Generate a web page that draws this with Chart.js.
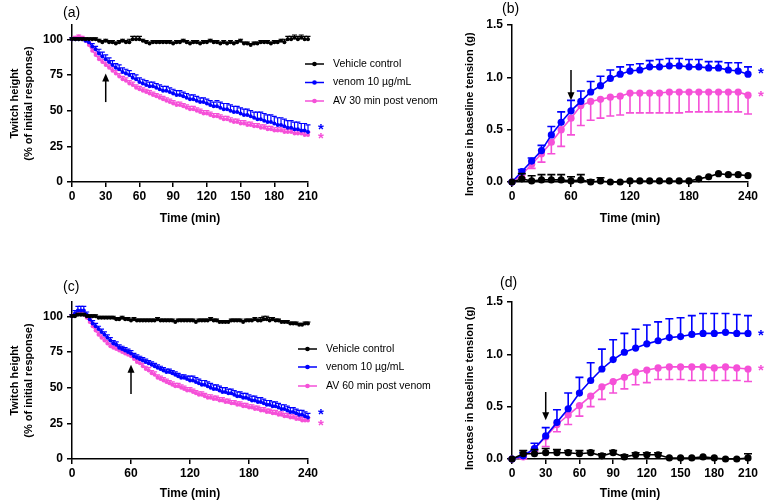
<!DOCTYPE html>
<html lang="en">
<head>
<meta charset="UTF-8" />
<title>Twitch height and baseline tension</title>
<script src="https://cdn.jsdelivr.net/npm/chart.js"></script>
<style>
  body { margin: 0; background: #fff; }
  #wrap { position: relative; width: 767px; height: 502px; overflow: hidden; }
  #wrap canvas { position: absolute; }
</style>
</head>
<body>
<div id="wrap">
  <canvas id="chartA" style="left:0;top:0;width:445px;height:228px" width="445" height="228"></canvas>
  <canvas id="chartB" style="left:440px;top:0;width:327px;height:228px" width="327" height="228"></canvas>
  <canvas id="chartC" style="left:0;top:240px;width:445px;height:262px" width="445" height="262"></canvas>
  <canvas id="chartD" style="left:440px;top:240px;width:327px;height:262px" width="327" height="262"></canvas>
</div>
<script>
// ---- panel (a): twitch height, AV 30 min post venom ----
const aTime = [0,3,6,9,12,15,18,21,24,27,30,33,36,39,42,45,48,51,54,57,60,63,66,69,72,75,78,81,84,87,90,93,96,99,102,105,108,111,114,117,120,123,126,129,132,135,138,141,144,147,150,153,156,159,162,165,168,171,174,177,180,183,186,189,192,195,198,201,204,207,210];
const aVehicle = [100,100,100,100,100,100,100,100,99,98, 99,98,98,97,98,99,98,98,100,100, 100,99,98,97,98,98,98,98,98,98, 97,98,98,99,98,97,98,98,97,98, 98,99,98,98,97,98,97,98,97,98, 99,97,97,96,97,97,98,98,98,97, 98,98,99,98,100,100,101,100,101,100, 100];
const aVehicleErr = [1,1,1,1,1,1,1,1,1,1, 1,1,1,1,1,1,1,2,2,2, 2,1,1,1,1,1,1,1,1,1, 1,1,1,1,1,1,1,1,1,1, 1,1,1,1,1,1,1,1,1,1, 1,1,1,1,1,1,1,1,1,1, 1,1,1,2,2,2,2,2,2,2, 2];
const aVenom = [100,100,100,100,99,98,95,93,90,88, 86,84,82,80,79,77,76,75,73,72, 70,69,68,67,67,66,65,64,64,63, 62,61,61,60,59,58,58,57,56,56, 55,54,53,53,52,51,51,50,49,49, 48,47,47,46,45,44,44,43,42,42, 41,40,40,39,38,38,37,37,36,36, 35];
const aVenomErr = [1,1,1,1,1,2,2,2,3,3, 3,3,3,3,3,3,3,3,3,3, 3,3,3,3,3,3,3,3,3,3, 3,3,3,3,3,3,3,3,3,3, 3,3,3,4,4,4,4,4,4,4, 4,4,4,4,4,5,5,5,5,5, 5,5,5,5,5,5,5,5,5,5, 5];
const aAV = [100,101,102,101,99,96,92,89,86,84, 82,80,78,76,74,72,71,69,68,66, 65,64,63,62,61,60,59,58,57,56, 55,54,54,53,52,51,51,50,49,48, 48,47,46,46,45,44,44,43,42,42, 41,41,40,40,39,39,38,38,37,37, 36,36,36,35,35,35,34,34,34,33, 33];
const aAVErr = [1,1,1,1,2,2,2,2,2,2, 2,2,2,2,2,2,2,2,2,2, 2,2,2,2,2,2,2,2,2,2, 2,2,2,2,2,2,2,2,2,2, 2,2,2,2,2,2,2,2,2,2, 2,2,2,2,2,2,2,2,2,2, 2,2,2,2,2,2,2,2,2,2, 2];

// ---- panel (b): baseline tension, AV 30 min post venom ----
const bTime = [0,10,20,30,40,50,60,70,80,90,100,110,120,130,140,150,160,170,180,190,200,210,220,230,240];
const bVehicle = [0,0.03,0.01,0.02,0.02,0.02,0.01,0.02,0.00,0.01,0.00,0.00,0.01,0.01,0.01,0.01,0.01,0.01,0.01,0.03,0.05,0.08,0.07,0.07,0.06];
const bVehicleErr = [0,0.05,0.05,0.05,0.05,0.05,0.04,0.05,0.02,0.03,0,0,0,0,0,0,0,0,0,0,0,0,0,0,0];
const bVenom = [0,0.10,0.20,0.30,0.45,0.57,0.68,0.77,0.86,0.92,0.99,1.03,1.06,1.07,1.10,1.10,1.11,1.11,1.10,1.10,1.09,1.09,1.07,1.06,1.03];
const bVenomErr = [0,0.02,0.03,0.05,0.08,0.10,0.10,0.10,0.10,0.09,0.08,0.07,0.06,0.06,0.06,0.07,0.07,0.07,0.07,0.07,0.06,0.06,0.07,0.08,0.07];
const bAV = [0,0.07,0.17,0.27,0.38,0.50,0.61,0.73,0.77,0.79,0.81,0.82,0.85,0.85,0.85,0.85,0.86,0.86,0.86,0.86,0.86,0.86,0.86,0.86,0.83];
const bAVErr = [0,0.03,0.04,0.08,0.11,0.16,0.16,0.19,0.18,0.18,0.18,0.18,0.19,0.19,0.19,0.19,0.20,0.20,0.19,0.19,0.19,0.19,0.19,0.19,0.18];

// ---- panel (c): twitch height, AV 60 min post venom ----
const cTime = [0,3,6,9,12,15,18,21,24,27,30,33,36,39,42,45,48,51,54,57,60,63,66,69,72,75,78,81,84,87,90,93,96,99,102,105,108,111,114,117,120,123,126,129,132,135,138,141,144,147,150,153,156,159,162,165,168,171,174,177,180,183,186,189,192,195,198,201,204,207,210,213,216,219,222,225,228,231,234,237,240];
const cVehicle = [100,100,101,101,101,100,100,100,100,99, 99,99,99,99,99,98,98,99,98,98, 97,98,97,97,97,97,97,97,97,98, 97,97,97,97,97,96,97,97,97,97, 97,97,96,97,97,97,97,98,97,97, 96,96,96,96,97,97,97,97,96,97, 97,97,98,97,97,98,98,97,98,97, 97,96,96,96,95,95,95,94,94,95, 95];
const cVehicleErr = [1,1,1,1,1,1,1,1,1,1, 1,1,1,1,1,1,1,1,1,1, 1,1,1,1,1,1,1,1,1,1, 1,1,1,1,1,1,1,1,1,1, 1,1,1,1,1,1,1,1,1,1, 1,1,1,1,1,1,1,1,1,1, 1,1,1,1,2,2,2,2,1,1, 1,1,1,1,1,1,1,1,1,1, 1];
const cVenom = [100,102,104,104,104,101,98,95,93,91, 89,87,85,83,81,80,78,77,76,75, 74,72,71,70,69,68,67,66,65,64, 63,62,61,61,60,59,58,57,57,56, 55,55,54,53,52,52,51,50,49,49, 48,47,47,46,46,45,44,44,43,43, 42,41,41,40,40,39,38,38,37,37, 36,35,35,34,33,33,32,31,31,30, 29];
const cVenomErr = [1,2,3,3,3,2,2,2,2,2, 2,2,2,2,2,2,2,2,2,2, 2,2,2,2,2,2,2,2,2,2, 2,2,2,2,2,2,2,2,2,2, 3,3,3,3,3,3,3,3,3,3, 3,3,3,3,3,3,3,3,3,3, 3,3,3,3,3,3,3,3,3,3, 3,3,3,3,3,3,3,3,3,3, 3];
const cAV = [100,101,102,102,101,99,96,93,90,87, 85,83,81,79,78,77,76,75,74,73, 72,70,68,67,65,63,62,60,59,57, 56,55,54,53,52,51,51,50,49,48, 48,47,46,45,45,44,43,43,42,42, 41,41,40,40,39,39,38,38,37,37, 36,36,35,35,34,34,33,33,32,32, 31,31,30,30,29,29,28,28,27,27, 27];
const cAVErr = [1,1,1,1,2,2,2,2,2,2, 2,2,2,2,2,2,2,2,2,2, 2,2,2,2,2,2,2,2,2,2, 2,2,2,2,2,2,2,2,2,2, 2,2,2,2,2,2,2,2,2,2, 2,2,2,2,2,2,2,2,2,2, 2,2,2,2,2,2,2,2,2,2, 2,2,2,2,2,2,2,2,2,2, 2];

// ---- panel (d): baseline tension, AV 60 min post venom ----
const dTime = [0,10,20,30,40,50,60,70,80,90,100,110,120,130,140,150,160,170,180,190,200,210];
const dVehicle = [0,0.05,0.05,0.06,0.06,0.06,0.05,0.06,0.03,0.06,0.02,0.04,0.04,0.04,0.01,0.01,0.01,0.02,0.01,0.00,0.00,0.01];
const dVehicleErr = [0,0.03,0.04,0.04,0.03,0.02,0.03,0.02,0.02,0.02,0.02,0.02,0.02,0.02,0,0,0,0,0,0,0,0.04];
const dVenom = [0,0.03,0.10,0.22,0.35,0.48,0.63,0.75,0.86,0.95,1.02,1.06,1.10,1.13,1.16,1.17,1.19,1.20,1.20,1.21,1.20,1.20];
const dVenomErr = [0,0.03,0.05,0.08,0.12,0.15,0.15,0.17,0.19,0.19,0.18,0.18,0.18,0.18,0.18,0.18,0.18,0.19,0.19,0.18,0.18,0.17];
const dAV = [0,0.02,0.10,0.21,0.33,0.42,0.51,0.60,0.69,0.74,0.78,0.83,0.85,0.87,0.88,0.88,0.88,0.88,0.87,0.88,0.87,0.86];
const dAVErr = [0,0.02,0.03,0.09,0.07,0.09,0.10,0.10,0.12,0.11,0.11,0.12,0.12,0.11,0.12,0.12,0.13,0.13,0.12,0.13,0.12,0.12];

// tick labels
const ticks210 = [0,30,60,90,120,150,180,210];
const ticks240 = [0,60,120,180,240];
const twitchTicks = [0,25,50,75,100];
const tensionTicks = [0,0.5,1.0,1.5];

const BLACK = '#000000';
const BLUE = '#0000FF';
const PINK = '#F550D8';
const FONT = '"Liberation Sans", Arial, Helvetica, sans-serif';

Chart.defaults.font.family = FONT;
Chart.defaults.color = '#000';

// error bars, drawn under each series
const errorBars = {
  id: 'errorBars',
  beforeDatasetDraw(chart, args, opts) {
    const ds = chart.data.datasets[args.index];
    if (!ds.errors) return;
    const ctx = chart.ctx, y = chart.scales.y;
    ctx.save();
    ctx.strokeStyle = ds.borderColor;
    ctx.lineWidth = opts.width;
    args.meta.data.forEach((pt, i) => {
      const e = ds.errors[i];
      if (!e) return;
      const v = ds.data[i].y;
      const dirs = ds.errDir === 0 ? [1, -1] : [ds.errDir];
      dirs.forEach(d => {
        const py = y.getPixelForValue(v + d * e);
        ctx.beginPath();
        ctx.moveTo(pt.x, pt.y);
        ctx.lineTo(pt.x, py);
        ctx.moveTo(pt.x - opts.cap, py);
        ctx.lineTo(pt.x + opts.cap, py);
        ctx.stroke();
      });
    });
    ctx.restore();
  }
};

// panel letter, legend, arrow and asterisks
const deco = {
  id: 'deco',
  afterDraw(chart, args, o) {
    const {ctx, scales: {x, y}} = chart;
    ctx.save();
    ctx.fillStyle = '#000';
    ctx.textBaseline = 'middle';
    ctx.font = '14px ' + FONT;
    ctx.fillText(o.label, o.labelAt[0], o.labelAt[1]);

    if (o.legend) {
      ctx.font = '10.5px ' + FONT;
      o.legend.forEach(item => {
        ctx.strokeStyle = item.color;
        ctx.fillStyle = item.color;
        ctx.lineWidth = 1.5;
        ctx.beginPath();
        ctx.moveTo(o.legendX, item.y);
        ctx.lineTo(o.legendX + 19, item.y);
        ctx.stroke();
        ctx.beginPath();
        ctx.arc(o.legendX + 9.5, item.y, 2.3, 0, Math.PI * 2);
        ctx.fill();
        ctx.fillStyle = '#000';
        ctx.fillText(item.text, o.legendX + 28, item.y);
      });
    }

    const ax = x.getPixelForValue(o.arrow.x);
    const y0 = y.getPixelForValue(o.arrow.from);
    const y1 = y.getPixelForValue(o.arrow.to);
    const dir = Math.sign(y1 - y0);
    ctx.strokeStyle = '#000';
    ctx.fillStyle = '#000';
    ctx.lineWidth = 1.5;
    ctx.beginPath();
    ctx.moveTo(ax, y0);
    ctx.lineTo(ax, y1 - dir * 5);
    ctx.stroke();
    ctx.beginPath();
    ctx.moveTo(ax, y1);
    ctx.lineTo(ax - 3.5, y1 - dir * 8);
    ctx.lineTo(ax + 3.5, y1 - dir * 8);
    ctx.closePath();
    ctx.fill();

    ctx.font = 'bold 15px ' + FONT;
    ctx.textAlign = 'center';
    o.stars.forEach(s => {
      ctx.fillStyle = s.color;
      ctx.fillText('*', x.right + 13, y.getPixelForValue(s.value) + 4);
    });
    ctx.restore();
  }
};

function series(label, times, vals, errs, color, dir, cfg) {
  return {
    label: label,
    data: times.map((t, i) => ({x: t, y: vals[i]})),
    errors: errs,
    errDir: dir,
    borderColor: color,
    backgroundColor: color,
    borderWidth: cfg.lw,
    pointRadius: cfg.pr,
    pointHoverRadius: cfg.pr,
    pointBorderWidth: 0,
    tension: 0,
    clip: false
  };
}

function axisStyle() {
  return {
    grid: { drawOnChartArea: false, drawTicks: true, tickLength: 5, color: '#000', lineWidth: 1.5 },
    border: { display: true, color: '#000', width: 1.5 }
  };
}

function makePanel(id, cfg) {
  new Chart(document.getElementById(id), {
    type: 'line',
    data: { datasets: cfg.datasets },
    options: {
      responsive: false,
      animation: false,
      events: [],
      layout: { padding: cfg.pad },
      plugins: {
        legend: { display: false },
        tooltip: { enabled: false },
        errorBars: { width: cfg.errW, cap: cfg.cap },
        deco: cfg.deco
      },
      scales: {
        x: Object.assign(axisStyle(), {
          type: 'linear', min: 0, max: cfg.xMax,
          afterFit: s => { s.height = cfg.xh; },
          afterBuildTicks: s => { s.ticks = cfg.xTicks.map(v => ({value: v})); },
          ticks: { color: '#000', font: {size: 12, weight: 'bold'}, padding: 2, maxRotation: 0, autoSkip: false },
          title: { display: true, text: 'Time (min)', color: '#000', font: {size: 12, weight: 'bold'}, padding: {top: 0, bottom: cfg.xtPad} }
        }),
        y: Object.assign(axisStyle(), {
          type: 'linear', min: 0, max: cfg.yMax,
          afterFit: s => { s.width = cfg.yw; },
          afterBuildTicks: s => { s.ticks = cfg.yTicks.map(v => ({value: v})); },
          ticks: { color: '#000', font: {size: 12, weight: 'bold'}, padding: 4, callback: cfg.yFmt },
          title: { display: true, text: cfg.yTitle, color: '#000', font: {size: 11, weight: 'bold', lineHeight: 1.27}, padding: {top: cfg.ytPad, bottom: 0} }
        })
      }
    },
    plugins: [errorBars, deco]
  });
}

const thin = {lw: 1.2, pr: 2};
const thick = {lw: 1.6, pr: 3.6};

makePanel('chartA', {
  datasets: [
    series('Vehicle control', aTime, aVehicle, aVehicleErr, BLACK, 1, thin),
    series('venom 10 µg/mL', aTime, aVenom, aVenomErr, BLUE, 1, thin),
    series('AV 30 min post venom', aTime, aAV, aAVErr, PINK, 1, thin)
  ],
  pad: {left: 0, top: 25, right: 137, bottom: 0},
  xMax: 210, xTicks: ticks210, xh: 46, xtPad: 2,
  yMax: 110, yTicks: twitchTicks, yw: 72, ytPad: 8, yFmt: v => v,
  yTitle: ['Twitch height', '(% of initial response)'],
  errW: 1.2, cap: 2.5,
  deco: {
    label: '(a)', labelAt: [63, 13],
    legendX: 305,
    legend: [
      {text: 'Vehicle control', color: BLACK, y: 64},
      {text: 'venom 10 µg/mL', color: BLUE, y: 82.5},
      {text: 'AV 30 min post venom', color: PINK, y: 101}
    ],
    arrow: {x: 30, from: 56, to: 76},
    stars: [{value: 39, color: BLUE}, {value: 33, color: PINK}]
  }
});

makePanel('chartB', {
  datasets: [
    series('Vehicle control', bTime, bVehicle, bVehicleErr, BLACK, 1, thick),
    series('venom 10 µg/mL', bTime, bVenom, bVenomErr, BLUE, 1, thick),
    series('AV 30 min post venom', bTime, bAV, bAVErr, PINK, -1, thick)
  ],
  pad: {left: 0, top: 25, right: 19, bottom: 0},
  xMax: 240, xTicks: ticks240, xh: 46, xtPad: 2,
  yMax: 1.5, yTicks: tensionTicks, yw: 72, ytPad: 23, yFmt: v => v.toFixed(1),
  // trailing spaces nudge the centred title down, as in the original
  yTitle: 'Increase in baseline tension (g)       ',
  errW: 1.6, cap: 4,
  deco: {
    label: '(b)', labelAt: [62, 9],
    arrow: {x: 60, from: 1.07, to: 0.78},
    stars: [{value: 1.07, color: BLUE}, {value: 0.85, color: PINK}]
  }
});

makePanel('chartC', {
  datasets: [
    series('Vehicle control', cTime, cVehicle, cVehicleErr, BLACK, 1, thin),
    series('venom 10 µg/mL', cTime, cVenom, cVenomErr, BLUE, 1, thin),
    series('AV 60 min post venom', cTime, cAV, cAVErr, PINK, 1, thin)
  ],
  pad: {left: 0, top: 62, right: 137, bottom: 0},
  xMax: 240, xTicks: ticks240, xh: 43, xtPad: 1,
  yMax: 110, yTicks: twitchTicks, yw: 72, ytPad: 8, yFmt: v => v,
  yTitle: ['Twitch height', '(% of initial response)'],
  errW: 1.2, cap: 2.5,
  deco: {
    label: '(c)', labelAt: [63, 47],
    legendX: 298,
    legend: [
      {text: 'Vehicle control', color: BLACK, y: 109},
      {text: 'venom 10 µg/mL', color: BLUE, y: 127},
      {text: 'AV 60 min post venom', color: PINK, y: 146}
    ],
    arrow: {x: 60, from: 45.5, to: 66},
    stars: [{value: 34, color: BLUE}, {value: 26, color: PINK}]
  }
});

makePanel('chartD', {
  datasets: [
    series('Vehicle control', dTime, dVehicle, dVehicleErr, BLACK, 1, thick),
    series('venom 10 µg/mL', dTime, dVenom, dVenomErr, BLUE, 1, thick),
    series('AV 60 min post venom', dTime, dAV, dAVErr, PINK, -1, thick)
  ],
  pad: {left: 0, top: 62, right: 19, bottom: 0},
  xMax: 210, xTicks: ticks210, xh: 43, xtPad: 1,
  yMax: 1.5, yTicks: tensionTicks, yw: 72, ytPad: 23, yFmt: v => v.toFixed(1),
  yTitle: 'Increase in baseline tension (g)     ',
  errW: 1.6, cap: 4,
  deco: {
    label: '(d)', labelAt: [60, 43],
    arrow: {x: 30, from: 0.64, to: 0.37},
    stars: [{value: 1.21, color: BLUE}, {value: 0.88, color: PINK}]
  }
});
</script>
</body>
</html>
